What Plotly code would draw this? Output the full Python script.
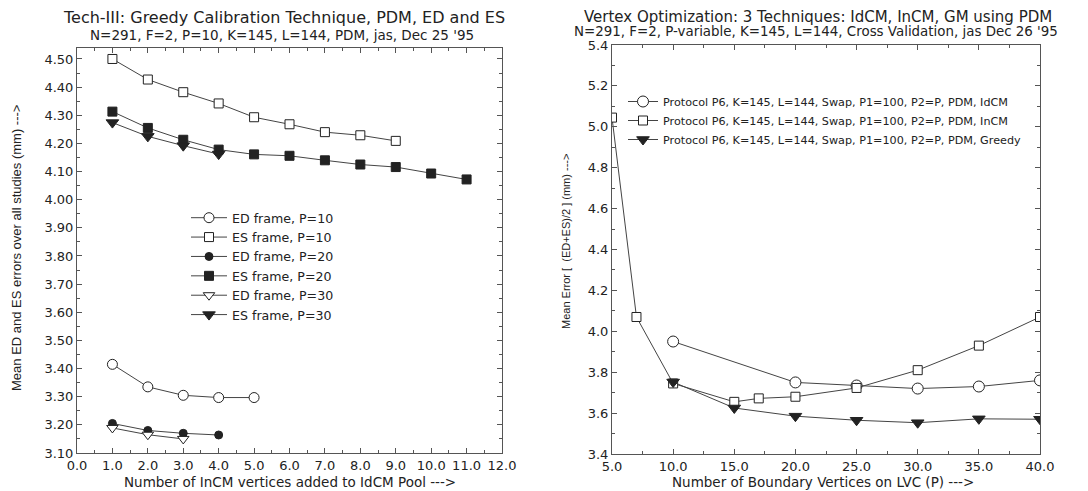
import plotly.graph_objects as go

# ---------------- Left chart data ----------------
ed_p10_x = [1, 2, 3, 4, 5]
ed_p10_y = [3.415, 3.335, 3.305, 3.297, 3.297]
es_p10_x = [1, 2, 3, 4, 5, 6, 7, 8, 9]
es_p10_y = [4.500, 4.427, 4.382, 4.342, 4.293, 4.268, 4.240, 4.229, 4.209]
ed_p20_x = [1, 2, 3, 4]
ed_p20_y = [3.205, 3.180, 3.170, 3.164]
es_p20_x = [1, 2, 3, 4, 5, 6, 7, 8, 9, 10, 11]
es_p20_y = [4.313, 4.255, 4.213, 4.178, 4.161, 4.156, 4.140, 4.125, 4.116, 4.093, 4.072]
ed_p30_x = [1, 2, 3]
ed_p30_y = [3.189, 3.165, 3.150]
es_p30_x = [1, 2, 3, 4]
es_p30_y = [4.274, 4.225, 4.192, 4.162]

# ---------------- Right chart data ----------------
idcm_p = [10, 20, 25, 30, 35, 40]
idcm_err = [3.950, 3.750, 3.735, 3.720, 3.730, 3.760]
incm_p = [5, 7, 10, 15, 17, 20, 25, 30, 35, 40]
incm_err = [5.045, 4.070, 3.745, 3.655, 3.672, 3.680, 3.723, 3.810, 3.930, 4.070]
greedy_p = [10, 15, 20, 25, 30, 35, 40]
greedy_err = [3.752, 3.625, 3.585, 3.565, 3.553, 3.572, 3.570]

legend_left = ["ED frame, P=10", "ES frame, P=10", "ED frame, P=20",
               "ES frame, P=20", "ED frame, P=30", "ES frame, P=30"]
legend_right = ["Protocol P6, K=145, L=144, Swap, P1=100, P2=P, PDM, IdCM",
                "Protocol P6, K=145, L=144, Swap, P1=100, P2=P, PDM, InCM",
                "Protocol P6, K=145, L=144, Swap, P1=100, P2=P, PDM, Greedy"]

FONT = "DejaVu Sans, Liberation Sans, Arial, sans-serif"
NARROW = "Liberation Sans, Arial, sans-serif"
INK = "#222222"
LINE = "#444444"
AX = "#555555"

fig = go.Figure()

def add(x, y, name, symbol, filled, size, xa, ya, legend):
    fig.add_trace(go.Scatter(
        x=x, y=y, name=name, mode="lines+markers",
        xaxis=xa, yaxis=ya, legend=legend,
        line=dict(color=LINE, width=1),
        marker=dict(symbol=symbol, size=size,
                    color=INK if filled else "white",
                    line=dict(color=INK, width=1)),
    ))

add(ed_p10_x, ed_p10_y, legend_left[0], "circle", False, 10, "x", "y", "legend")
add(es_p10_x, es_p10_y, legend_left[1], "square", False, 9, "x", "y", "legend")
add(ed_p20_x, ed_p20_y, legend_left[2], "circle", True, 8, "x", "y", "legend")
add(es_p20_x, es_p20_y, legend_left[3], "square", True, 9, "x", "y", "legend")
add(ed_p30_x, ed_p30_y, legend_left[4], "triangle-down", False, 10, "x", "y", "legend")
add(es_p30_x, es_p30_y, legend_left[5], "triangle-down", True, 11, "x", "y", "legend")

add(idcm_p, idcm_err, legend_right[0], "circle", False, 11, "x2", "y2", "legend2")
add(incm_p, incm_err, legend_right[1], "square", False, 9, "x2", "y2", "legend2")
add(greedy_p, greedy_err, legend_right[2], "triangle-down", True, 11, "x2", "y2", "legend2")

# The page body adds an 8px offset, so the figure is sized to fill the window
# and positions below are given in window pixels minus that offset.
OFF = 8
W, H = 1080, 483

def px(v):
    return (v - OFF) / W

def py(v):
    return 1 - (v - OFF) / H

axis_common = dict(
    showline=True, linecolor=AX, linewidth=1, mirror="allticks",
    ticks="inside", ticklen=5, tickcolor=AX, showgrid=False, zeroline=False,
    tickfont=dict(family=FONT, size=13, color=INK),
)

def minor(d):
    return dict(dtick=d, ticklen=3, ticks="inside", tickcolor=AX)

fig.update_layout(
    width=W, height=H,
    margin=dict(l=0, r=0, t=0, b=0, autoexpand=False),
    paper_bgcolor="white", plot_bgcolor="white",
    font=dict(family=FONT, color=INK),
    xaxis=dict(domain=[px(77), px(502)], range=[0, 12], dtick=1, tickformat=".1f",
               anchor="y", minor=minor(0.5), **axis_common),
    yaxis=dict(domain=[py(453), py(48)], range=[3.10, 4.539], dtick=0.1, tick0=3.1,
               tickformat=".2f", anchor="x", minor=minor(0.05), **axis_common),
    xaxis2=dict(domain=[px(612), px(1040)], range=[5, 40], dtick=5, tick0=5,
                tickformat=".1f", anchor="y2", minor=minor(2.5), **axis_common),
    yaxis2=dict(domain=[py(454), py(45)], range=[3.4, 5.4], dtick=0.2, tick0=3.4,
                tickformat=".1f", anchor="x2", minor=minor(0.1), **axis_common),
    legend=dict(x=px(186), y=py(203), xanchor="left", yanchor="top",
                bgcolor="rgba(0,0,0,0)", borderwidth=0, itemwidth=36,
                font=dict(family=FONT, size=12.6, color=INK), tracegroupgap=0),
    legend2=dict(x=px(623), y=py(87), xanchor="left", yanchor="top",
                 bgcolor="rgba(0,0,0,0)", borderwidth=0, itemwidth=30,
                 font=dict(family=FONT, size=11.2, color=INK), tracegroupgap=0),
    showlegend=True,
)

annotations = [
    dict(text="Tech-III: Greedy Calibration Technique, PDM, ED and ES",
         x=px(284), y=py(18), font=dict(size=16)),
    dict(text="N=291, F=2, P=10, K=145, L=144, PDM, jas, Dec 25 '95",
         x=px(282), y=py(35), font=dict(size=13.5)),
    dict(text="Vertex Optimization: 3 Techniques: IdCM, InCM, GM using PDM",
         x=px(818), y=py(17), font=dict(size=15)),
    dict(text="N=291, F=2, P-variable, K=145, L=144, Cross Validation, jas Dec 26 '95",
         x=px(816), y=py(32), font=dict(size=13.4)),
    dict(text="Number of InCM vertices added to IdCM Pool --->",
         x=px(290), y=py(482), font=dict(size=13.5)),
    dict(text="Number of Boundary Vertices on LVC (P) --->",
         x=px(823), y=py(482), font=dict(size=13.5)),
    dict(text="Mean ED and ES errors over all studies (mm) --->",
         x=px(16), y=py(248), textangle=-90, font=dict(size=13, family=NARROW)),
    dict(text="Mean Error [  (ED+ES)/2 ] (mm) --->",
         x=px(566), y=py(242), textangle=-90, font=dict(size=11, family=NARROW)),
]
for a in annotations:
    a.update(xref="paper", yref="paper", showarrow=False, xanchor="center", yanchor="middle")
    a["font"].setdefault("family", FONT)
    a["font"]["color"] = INK
fig.update_layout(annotations=annotations)

fig.write_html("out.html")
